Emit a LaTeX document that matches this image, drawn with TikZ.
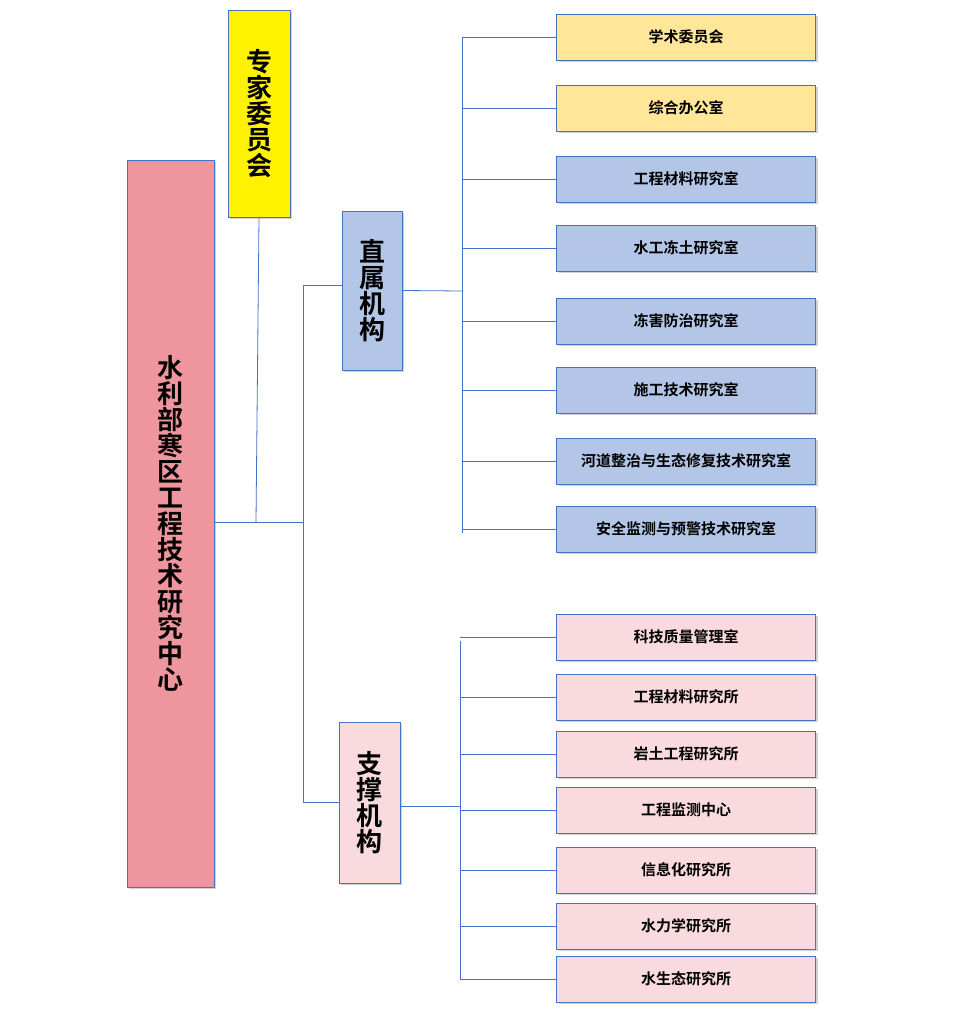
\documentclass[tikz,border=0pt]{standalone}
\usepackage{fontspec}
\setmainfont{Noto Sans CJK SC Bold}
\usetikzlibrary{shadows}
\definecolor{ln}{HTML}{4472C4}
\definecolor{mainpink}{HTML}{EF959D}
\definecolor{ylw}{HTML}{FFE699}
\definecolor{lblue}{HTML}{B4C6E7}
\definecolor{lpink}{HTML}{F9DADF}
\tikzset{x=1pt,y=-1pt,
 bx/.style={draw=ln,line width=0.8pt,inner sep=0pt,drop shadow={opacity=0.35,shadow xshift=2pt,shadow yshift=-2pt}},
 rb/.style={bx,minimum width=259pt,minimum height=46pt,font=\fontsize{15}{18}\selectfont},
 vt/.style={bx,align=center,font=\fontsize{26}{30}\selectfont},
 cn/.style={draw=ln,line width=0.8pt}}
\begin{document}
\begin{tikzpicture}
\useasboundingbox[fill=white] (0,0) rectangle (977,1021);
\node[vt,fill=mainpink,minimum width=87pt,minimum height=727pt] (main) at (170.5,523.5) {水\\[-4pt]利\\[-4pt]部\\[-4pt]寒\\[-4pt]区\\[-4pt]工\\[-4pt]程\\[-4pt]技\\[-4pt]术\\[-4pt]研\\[-4pt]究\\[-4pt]中\\[-4pt]心};
\node[vt,fill=yellow,minimum width=62pt,minimum height=207pt] (zj) at (259,113.5) {专\\[-4pt]家\\[-4pt]委\\[-4pt]员\\[-4pt]会};
\node[vt,fill=lblue,minimum width=60pt,minimum height=159pt] (zs) at (372,290.5) {直\\[-4pt]属\\[-4pt]机\\[-4pt]构};
\node[vt,fill=lpink,minimum width=61pt,minimum height=161pt] (zc) at (369.5,802.5) {支\\[-4pt]撑\\[-4pt]机\\[-4pt]构};
\foreach \n/\y/\c/\t in {a1/37/ylw/学术委员会,a2/108/ylw/综合办公室,a3/179/lblue/工程材料研究室,a4/248/lblue/水工冻土研究室,a5/321/lblue/冻害防治研究室,a6/390/lblue/施工技术研究室,a7/461/lblue/河道整治与生态修复技术研究室,a8/529/lblue/安全监测与预警技术研究室}{
 \node[rb,fill=\c] (\n) at (686,\y) {\t};
 \draw[cn] (462,\y) -- (\n.west);}
\foreach \n/\y/\t in {b1/637/科技质量管理室,b2/697/工程材料研究所,b3/754/岩土工程研究所,b4/810/工程监测中心,b5/870/信息化研究所,b6/926/水力学研究所,b7/979/水生态研究所}{
 \node[rb,fill=lpink] (\n) at (686,\y) {\t};
 \draw[cn] (460,\y) -- (\n.west);}
\coordinate (j1) at (303,522);
\draw[cn] (main.east |- j1) -- (j1);
\draw[cn] (zj.south) -- (256,522);
\draw[cn] (303,285) -- (303,802);
\draw[cn] (303,285) -- (zs.west |- 0,285);
\draw[cn] (303,802) -- (zc.west |- 0,802);
\draw[cn] (zs.east) -- (462,291);
\draw[cn] (462,37) -- (462,533);
\draw[cn] (zc.east |- 0,806) -- (460,806);
\draw[cn] (460,641) -- (460,979);
\end{tikzpicture}
\end{document}
